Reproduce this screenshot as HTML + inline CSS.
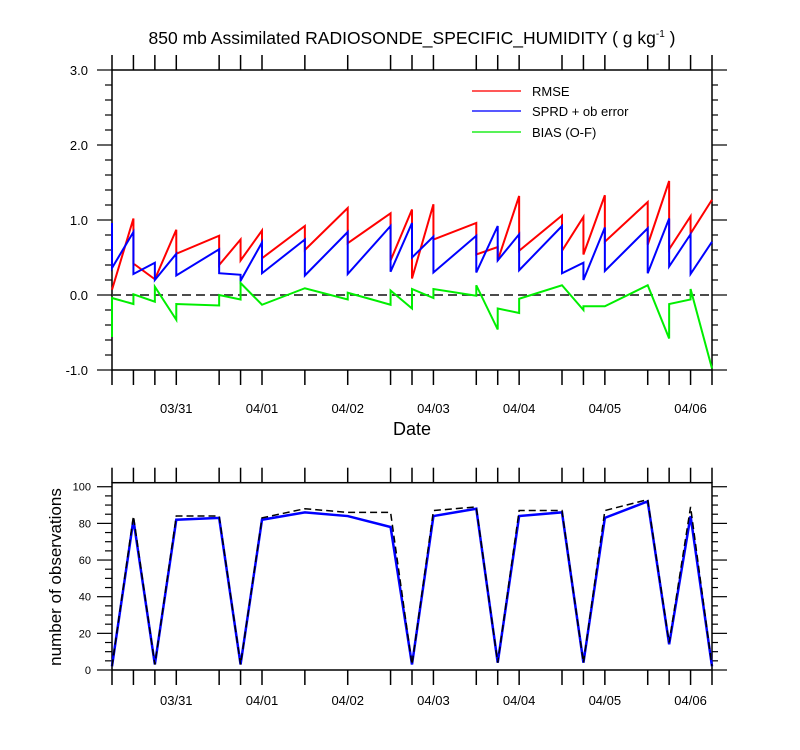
<!DOCTYPE html>
<html><head><meta charset="utf-8"><style>
body{margin:0;background:#fff;}
svg{display:block;font-family:"Liberation Sans",Arial,sans-serif;}
</style></head><body>
<svg id="c" width="800" height="750"></svg>
<script>
const obsTimes=[0,1,2,3,5,6,7,9,11,13,14,15,17,18,19,21,22,23,25,26,27,28];
const dayTicks=[3,7,11,15,19,23,27];
const dayLabels=['03/31','04/01','04/02','04/03','04/04','04/05','04/06'];
const rmseT=[0,1,1,2,3,3,5,5,6,6,7,7,9,9,11,11,13,13,14,14,15,15,17,17,18,18,19,19,21,21,22,22,23,23,25,25,26,26,27,27,28];
const rmseV=[0.07,1.02,0.42,0.21,0.87,0.55,0.79,0.40,0.74,0.46,0.86,0.49,0.92,0.60,1.16,0.69,1.09,0.46,1.14,0.22,1.21,0.74,0.96,0.54,0.64,0.46,1.32,0.59,1.06,0.59,1.04,0.54,1.33,0.71,1.24,0.67,1.52,0.61,1.05,0.82,1.27];
const sprdT=[0,0,1,1,2,2,3,3,5,5,6,6,7,7,9,9,11,11,13,13,14,14,15,15,17,17,18,18,19,19,21,21,22,22,23,23,25,25,26,26,27,27,28];
const sprdV=[0.96,0.36,0.84,0.28,0.43,0.20,0.55,0.26,0.61,0.29,0.27,0.19,0.70,0.29,0.74,0.26,0.84,0.28,0.92,0.31,0.96,0.50,0.78,0.30,0.79,0.30,0.92,0.46,0.81,0.33,0.92,0.29,0.43,0.20,0.90,0.32,0.89,0.29,1.02,0.38,0.81,0.28,0.71];
const biasT=[0,0,1,1,2,2,3,3,5,5,6,6,7,9,11,11,13,13,14,14,15,15,17,17,18,18,19,19,21,22,22,23,25,26,26,27,27,28];
const biasV=[-0.56,-0.04,-0.12,0.01,-0.09,0.11,-0.33,-0.12,-0.14,0.0,-0.06,0.16,-0.13,0.09,-0.06,0.03,-0.13,0.06,-0.18,0.08,-0.04,0.08,-0.01,0.13,-0.46,-0.18,-0.24,-0.05,0.13,-0.2,-0.15,-0.15,0.13,-0.58,-0.12,-0.06,0.08,-0.98];
const assimV=[2,82,3,82,83,3,82,86,84,78,3,84,88,4,84,86,4,83,92,14,84,2];
const possV=[2,84,3,84,84,3,83,88,86,86,3,87,89,4,87,87,4,87,93,15,89,2];
const topY=['3.0','2.0','1.0','0.0','-1.0'];
const botY=['0','20','40','60','80','100'];

const NS='http://www.w3.org/2000/svg';
const svg=document.getElementById('c');
function el(tag,attrs,parent){const e=document.createElementNS(NS,tag);for(const k in attrs)e.setAttribute(k,attrs[k]);(parent||svg).appendChild(e);return e;}
const X0=112,X1=712;
const x=t=>X0+(X1-X0)*t/28;
const y1=v=>70+(3-v)*75;
const y2=v=>670-v*(670-482.7)/102.2;

function frame(top,bot,name,lblOff){
  const r=el('rect',{x:X0,y:top,width:X1-X0,height:bot-top,fill:'none',stroke:'#000','stroke-width':1.5});
  
  
  obsTimes.forEach(t=>{
    el('line',{x1:x(t),x2:x(t),y1:top,y2:top-15,stroke:'#000','stroke-width':1.5});
    el('line',{x1:x(t),x2:x(t),y1:bot,y2:bot+15,stroke:'#000','stroke-width':1.5});
  });
  dayTicks.forEach((t,i)=>{
    const tx=el('text',{x:x(t),y:bot+lblOff,'font-size':13,'text-anchor':'middle'});
    tx.textContent=dayLabels[i];
    
    
  });
}
function poly(ts,vs,yf,color,w,dash,name){
  const p=el('polyline',{points:ts.map((t,i)=>x(t)+','+yf(vs[i])).join(' '),fill:'none',stroke:color,'stroke-width':w,'stroke-linejoin':'miter'});
  if(dash)p.setAttribute('stroke-dasharray',dash);
  
  
}
// top chart
frame(70,370,'top-chart',43);
for(let v=-1;v<=3.001;v+=0.2){
  const major=Math.abs(v-Math.round(v))<0.01;
  el('line',{x1:X0,x2:X0-(major?15:7),y1:y1(v),y2:y1(v),stroke:'#000','stroke-width':1.2});
  el('line',{x1:X1,x2:X1+(major?15:6),y1:y1(v),y2:y1(v),stroke:'#000','stroke-width':1.2});
}
topY.forEach(s=>{
  const t=el('text',{x:88,y:y1(parseFloat(s))+5,'font-size':13,'text-anchor':'end'});t.textContent=s;
  
  
});
el('line',{x1:X0,x2:X1,y1:y1(0),y2:y1(0),stroke:'#333','stroke-width':1.8,'stroke-dasharray':'9,5'});
poly(rmseT,rmseV,y1,'#ff0000',2,null,'rmse-line');
poly(sprdT,sprdV,y1,'#0000ff',2,null,'sprd-line');
poly(biasT,biasV,y1,'#00ee00',2,null,'bias-line');
// legend
[['RMSE','#ff2020',91],['SPRD + ob error','#2020ff',111],['BIAS (O-F)','#20ee20',132]].forEach(d=>{
  el('line',{x1:472,x2:521,y1:d[2],y2:d[2],stroke:d[1],'stroke-width':1.5});
  const t=el('text',{x:532,y:d[2]+5,'font-size':13});t.textContent=d[0];
  
  
});
const title=el('text',{x:412,y:44,'font-size':17.5,'text-anchor':'middle'});
title.innerHTML='850 mb Assimilated RADIOSONDE_SPECIFIC_HUMIDITY ( g kg<tspan dy="-7" font-size="10">-1</tspan><tspan dy="7"> )</tspan>';


const dl=el('text',{x:412,y:435,'font-size':18,'text-anchor':'middle'});dl.textContent='Date';


// bottom chart
frame(482.7,670,'bottom-chart',35);
for(let v=0;v<=100;v+=5){
  const major=v%20===0;
  el('line',{x1:X0,x2:X0-(major?15:7),y1:y2(v),y2:y2(v),stroke:'#000','stroke-width':1.2});
  el('line',{x1:X1,x2:X1+(major?15:6),y1:y2(v),y2:y2(v),stroke:'#000','stroke-width':1.2});
}
botY.forEach(s=>{
  const t=el('text',{x:91,y:y2(+s)+4,'font-size':11,'text-anchor':'end'});t.textContent=s;
  
  
});
poly(obsTimes,assimV,y2,'#0000ff',2.5,null,'assimilated-count-line');
poly(obsTimes,possV,y2,'#000',1.5,'7,4','possible-count-line');
const yl=el('text',{x:0,y:0,'font-size':17,'text-anchor':'middle',transform:'translate(61,577) rotate(-90)'});
yl.textContent='number of observations';


</script>
</body></html>
